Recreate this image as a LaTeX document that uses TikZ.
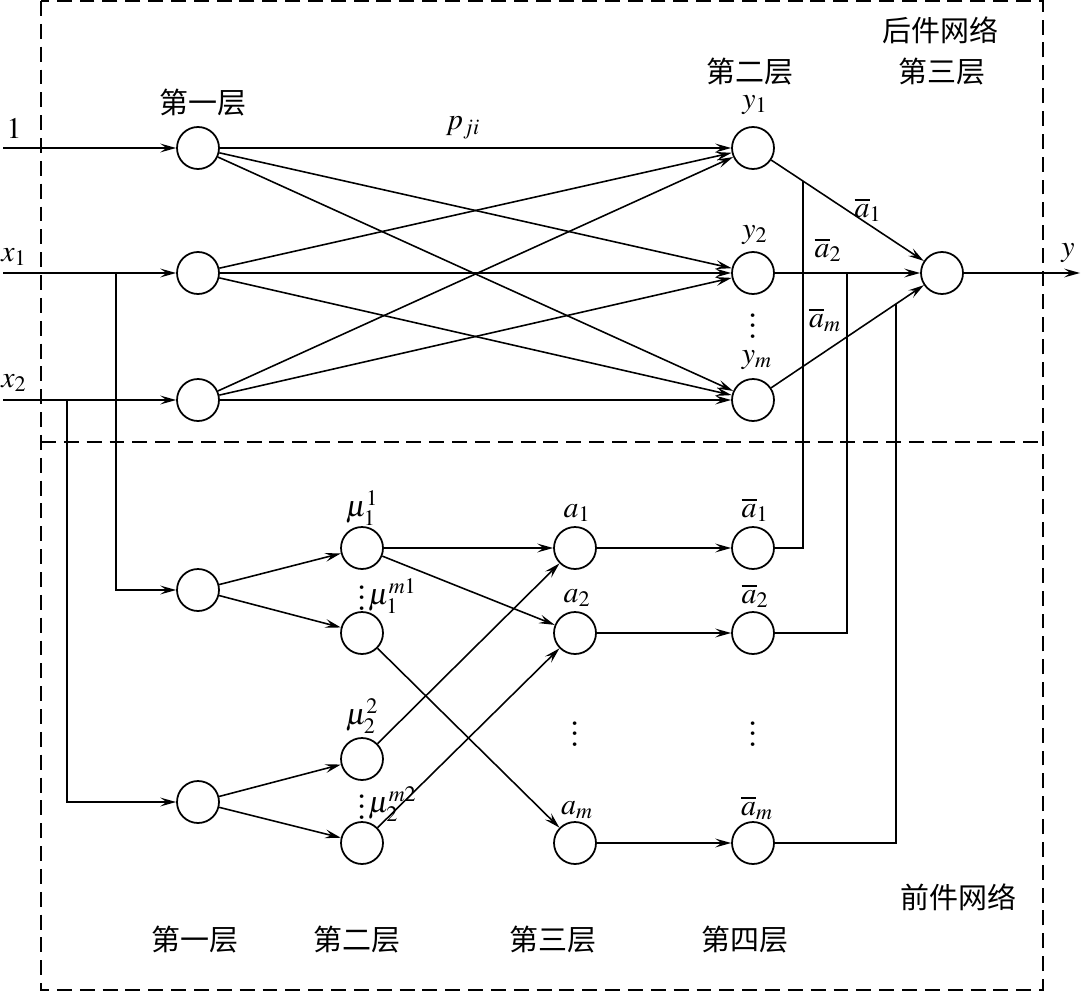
\documentclass[tikz,border=0pt]{standalone}
\usepackage{fontspec}
\usepackage{mathptmx}
\newfontfamily\cjk{Noto Sans CJK SC}
\usetikzlibrary{arrows.meta}
\newcommand\bigvdots{\scalebox{1.5}{\ensuremath{\vdots}}}
\begin{document}
\begin{tikzpicture}[x=0.02cm,y=-0.02cm,
  neuron/.style={draw,circle,line width=1pt,minimum size=0.84cm,inner sep=0pt},
  conn/.style={line width=0.9pt},
  arr/.style={conn,-{Stealth[length=9pt,width=5pt,inset=3.5pt]}},
  frame/.style={line width=1pt,dash pattern=on 8.5pt off 4.5pt},
  lbl/.style={inner sep=0pt,font=\fontsize{17}{20}\selectfont},
  cn/.style={inner sep=0pt,font=\fontsize{16.5}{19}\selectfont\cjk}]
\useasboundingbox (0,0) rectangle (1081,993);
% frame
\draw[frame] (41,1) rectangle (1043,990);
\draw[frame] (41,442) -- (1043,442);
% upper nodes
\node[neuron] (i1) at (198,148) {};
\node[neuron] (i2) at (198,273) {};
\node[neuron] (i3) at (198,400) {};
\node[neuron] (y1) at (753,148) {};
\node[neuron] (y2) at (753,273) {};
\node[neuron] (ym) at (753,400) {};
\node[neuron] (out) at (942,273) {};
\coordinate (s1) at (3,148);
\coordinate (s2) at (3,273);
\coordinate (s3) at (3,400);
\coordinate (e) at (1080,273);
\draw[arr] (s1) -- (i1);
\draw[arr] (s2) -- (i2);
\draw[arr] (s3) -- (i3);
\foreach \a in {i1,i2,i3}{
  \foreach \b in {y1,y2,ym}{
    \draw[arr] (\a) -- (\b);
  }
}
\draw[arr] (y1) -- (out);
\draw[arr] (y2) -- (out);
\draw[arr] (ym) -- (out);
\draw[arr] (out) -- (e);
% lower nodes
\node[neuron] (l1) at (198,590) {};
\node[neuron] (l2) at (198,802) {};
\node[neuron] (m11) at (362,548) {};
\node[neuron] (m1m) at (362,633) {};
\node[neuron] (m22) at (362,759) {};
\node[neuron] (m2m) at (362,843) {};
\node[neuron] (a1) at (575,548) {};
\node[neuron] (a2) at (575,633) {};
\node[neuron] (am) at (575,843) {};
\node[neuron] (b1) at (753,548) {};
\node[neuron] (b2) at (753,633) {};
\node[neuron] (bm) at (753,843) {};
\coordinate (j1) at (116,273);
\coordinate (j2) at (67,400);
\draw[arr] (j1) |- (l1);
\draw[arr] (j2) |- (l2);
\draw[arr] (l1) -- (m11);
\draw[arr] (l1) -- (m1m);
\draw[arr] (l2) -- (m22);
\draw[arr] (l2) -- (m2m);
\draw[arr] (m11) -- (a1);
\draw[arr] (m11) -- (a2);
\draw[arr] (m1m) -- (am);
\draw[arr] (m22) -- (a1);
\draw[arr] (m2m) -- (a2);
\draw[arr] (a1) -- (b1);
\draw[arr] (a2) -- (b2);
\draw[arr] (am) -- (bm);
% feedback lines
\coordinate (v1a) at (803,0);
\coordinate (v1b) at (803,1000);
\coordinate (v2a) at (847,0);
\coordinate (v2b) at (847,1000);
\coordinate (v3a) at (896,0);
\coordinate (v3b) at (896,1000);
\coordinate (k1) at (intersection of y1--out and v1a--v1b);
\coordinate (k2) at (intersection of y2--out and v2a--v2b);
\coordinate (k3) at (intersection of ym--out and v3a--v3b);
\draw[conn] (b1) -| (k1);
\draw[conn] (b2) -| (k2);
\draw[conn] (bm) -| (k3);
% labels upper
\node[lbl] (t1) at (14,129) {$1$};
\node[lbl] (tx1) at (14,257) {$x_1$};
\node[lbl] (tx2) at (14,383) {$x_2$};
\node[lbl] (tp) at (463,128) {$p_{ji}$};
\node[lbl] (ty1) at (755,105) {$y_1$};
\node[lbl] (ty2) at (755,235) {$y_2$};
\node[lbl] (tym) at (757,360) {$y_m$};
\node[lbl] (tdy) at (753,318) {\bigvdots};
\node[lbl] (tab1) at (868,210) {$\overline{a}_1$};
\node[lbl] (tab2) at (828,250) {$\overline{a}_2$};
\node[lbl] (tabm) at (825,320) {$\overline{a}_m$};
\node[lbl] (ty) at (1068,253) {$y$};
\node[cn] (c1) at (203,103) {第一层};
\node[cn] (c2) at (750,72) {第二层};
\node[cn] (c3) at (942,72) {第三层};
\node[cn] (c4) at (940,30) {后件网络};
% labels lower
\node[lbl] (tm11) at (362,508) {$\mu_1^1$};
\node[lbl] (tdm1) at (362,590) {\bigvdots};
\node[lbl,anchor=west] (tm1m) at (368,596) {$\mu_1^{m1}$};
\node[lbl] (tm22) at (362,716) {$\mu_2^2$};
\node[lbl] (tdm2) at (362,799) {\bigvdots};
\node[lbl,anchor=west] (tm2m) at (368,804) {$\mu_2^{m2}$};
\node[lbl] (ta1) at (577,513) {$a_1$};
\node[lbl] (ta2) at (577,598) {$a_2$};
\node[lbl] (tam) at (577,810) {$a_m$};
\node[lbl] (tb1) at (755,510) {$\overline{a}_1$};
\node[lbl] (tb2) at (755,596) {$\overline{a}_2$};
\node[lbl] (tbm) at (757,808) {$\overline{a}_m$};
\node[lbl] (td1) at (575,726) {\bigvdots};
\node[lbl] (td2) at (753,726) {\bigvdots};
\node[cn] (d1) at (195,940) {第一层};
\node[cn] (d2) at (357,940) {第二层};
\node[cn] (d3) at (553,940) {第三层};
\node[cn] (d4) at (745,940) {第四层};
\node[cn] (d5) at (958,897) {前件网络};
\end{tikzpicture}
\end{document}
